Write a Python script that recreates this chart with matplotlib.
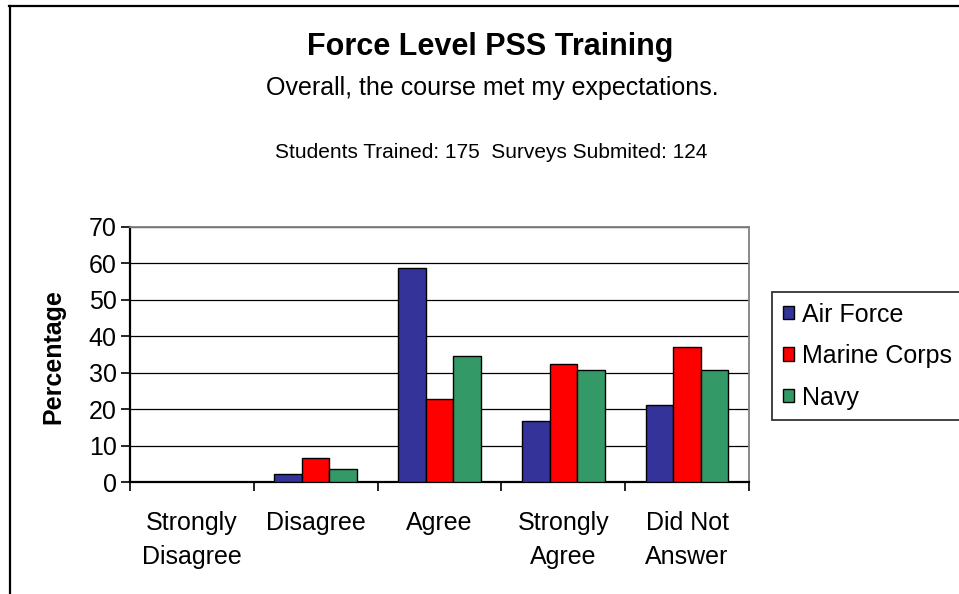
import matplotlib.pyplot as plt
import numpy as np
from matplotlib.lines import Line2D
from matplotlib.patches import Patch

plt.rcParams["font.family"] = ["Liberation Sans", "DejaVu Sans"]

CATEGORIES = ["Strongly\nDisagree", "Disagree", "Agree", "Strongly\nAgree", "Did Not\nAnswer"]
SERIES = ["Air Force", "Marine Corps", "Navy"]
AIR_FORCE = [0, 2.1, 58.8, 16.8, 21.2]
MARINE_CORPS = [0, 6.5, 22.9, 32.3, 37.1]
NAVY = [0, 3.7, 34.6, 30.8, 30.8]
COLORS = ["#333399", "#ff0000", "#339966"]
Y_TICKS = [0, 10, 20, 30, 40, 50, 60, 70]

W, H = 959, 594
fig = plt.figure(figsize=(W / 100, H / 100), dpi=100)
fig.patch.set_facecolor("white")

# outer frame (only top and left visible)
fig.add_artist(Line2D([9 / W, 1], [1 - 5.5 / H, 1 - 5.5 / H], color="black", lw=1.6))
fig.add_artist(Line2D([10 / W, 10 / W], [0, 1 - 5.5 / H], color="black", lw=1.6))

fig.text(490 / W, 1 - 47 / H, "Force Level PSS Training", ha="center", va="center",
         fontsize=22, fontweight="bold")
fig.text(492 / W, 1 - 88 / H, "Overall, the course met my expectations.", ha="center",
         va="center", fontsize=18)
fig.text(491 / W, 1 - 153 / H, "Students Trained: 175  Surveys Submited: 124", ha="center",
         va="center", fontsize=15)

ax = fig.add_axes([130 / W, (H - 482) / H, 619 / W, 255 / H])
x = np.arange(len(CATEGORIES))
bw = 0.222
for i, (vals, col) in enumerate(zip([AIR_FORCE, MARINE_CORPS, NAVY], COLORS)):
    ax.bar(x + (i - 1) * bw, vals, width=bw, color=col, edgecolor="black", linewidth=1.0,
           zorder=3)

ax.set_xlim(-0.5, len(CATEGORIES) - 0.5)
ax.set_ylim(0, 70)
ax.set_yticks(Y_TICKS)
ax.yaxis.grid(True, color="black", linewidth=0.9, zorder=0)
ax.set_axisbelow(True)
ax.tick_params(axis="y", labelsize=18, direction="out", length=6.5, width=1.2, pad=3)

ax.set_xticks(np.arange(len(CATEGORIES) + 1) - 0.5)
ax.set_xticklabels([])
ax.tick_params(axis="x", direction="out", length=6.5, width=1.2)
ax.set_xticks(x, minor=True)
ax.set_xticklabels(CATEGORIES, minor=True, fontsize=18, linespacing=1.5)
ax.tick_params(axis="x", which="minor", length=0, pad=21)

for s in ["left", "bottom"]:
    ax.spines[s].set_linewidth(1.6)
    ax.spines[s].set_color("black")
for s in ["top", "right"]:
    ax.spines[s].set_linewidth(1.3)
    ax.spines[s].set_color("#808080")

ax.set_ylabel("Percentage", fontsize=18, fontweight="bold")
ax.yaxis.set_label_coords(-0.105, 0.49)

handles = [Patch(facecolor=c, edgecolor="black", linewidth=1.0) for c in COLORS]
leg = fig.legend(handles, SERIES, loc="upper left", bbox_to_anchor=(772 / W, 1 - 292 / H),
                 fontsize=18, frameon=True, fancybox=False, handlelength=0.45,
                 handleheight=0.45, handletextpad=0.35, labelspacing=0.7,
                 borderpad=0.42, borderaxespad=0)
leg.get_frame().set_edgecolor("black")
leg.get_frame().set_linewidth(1.3)

fig.savefig("out.png", dpi=100, facecolor="white")
